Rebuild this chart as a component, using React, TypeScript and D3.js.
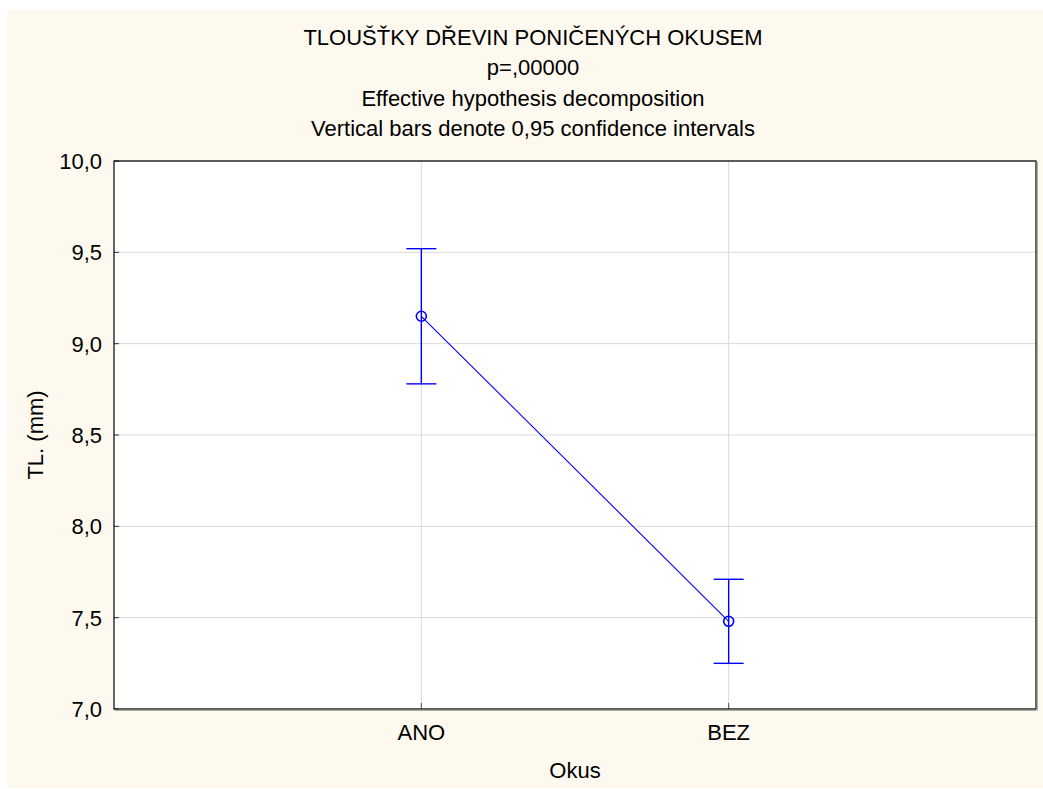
import React from 'react';
import * as d3 from 'd3';

const categories = ['ANO', 'BEZ'];
const means = [9.15, 7.48];
const lowerCI = [8.78, 7.25];
const upperCI = [9.52, 7.71];
const yTicks = [7.0, 7.5, 8.0, 8.5, 9.0, 9.5, 10.0];
const yDomain = [7.0, 10.0];
const titleLines = [
  'TLOUŠŤKY DŘEVIN PONIČENÝCH OKUSEM',
  'p=,00000',
  'Effective hypothesis decomposition',
  'Vertical bars denote 0,95 confidence intervals',
];
const xLabel = 'Okus';
const yLabel = 'TL. (mm)';

const W = 1043;
const H = 789;
const plot = { left: 114, right: 1036, top: 161, bottom: 709 };
const FONT = "'Liberation Sans', Arial, sans-serif";
const BLUE = '#0000ff';
const FS = 22;

const locale = d3.formatLocale({ decimal: ',', thousands: ' ', grouping: [3], currency: ['', ''] });
const fmt = locale.format('.1f');

export default function App() {
  const x = d3.scalePoint<string>().domain(categories).range([plot.left, plot.right]).padding(1);
  const y = d3.scaleLinear().domain(yDomain).range([plot.bottom, plot.top]);
  const line = d3
    .line<number>()
    .x((_, i) => x(categories[i]) as number)
    .y((d) => y(d));
  const capHalf = 15;

  return (
    <svg
      width={W}
      height={H}
      style={{ position: 'absolute', left: 0, top: 0, display: 'block' }}
      fontFamily={FONT}
    >
      <rect x={0} y={0} width={W} height={H} fill="#ffffff" />
      <rect x={7} y={10} width={W - 7} height={H - 11} fill="#fdf9ef" />
      {titleLines.map((t, i) => (
        <text key={i} x={533} y={45 + i * 30.3} textAnchor="middle" fontSize={FS} fill="#000">
          {t}
        </text>
      ))}
      <rect
        x={plot.left}
        y={plot.top}
        width={plot.right - plot.left}
        height={plot.bottom - plot.top}
        fill="#ffffff"
      />
      {/* grid */}
      {yTicks.map((t) => (
        <line key={'gy' + t} x1={plot.left} x2={plot.right} y1={y(t)} y2={y(t)} stroke="#d9d9d9" strokeWidth={1} />
      ))}
      {categories.map((c) => (
        <line key={'gx' + c} x1={x(c)} x2={x(c)} y1={plot.top} y2={plot.bottom} stroke="#d9d9d9" strokeWidth={1} />
      ))}
      {/* ticks */}
      {yTicks.map((t) => (
        <line key={'ty' + t} x1={plot.left} x2={plot.left + 5} y1={y(t)} y2={y(t)} stroke="#333" strokeWidth={1} />
      ))}
      {categories.map((c) => (
        <line key={'tx' + c} x1={x(c)} x2={x(c)} y1={plot.bottom} y2={plot.bottom - 6} stroke="#555" strokeWidth={1} />
      ))}
      {/* frame */}
      <rect
        x={plot.left}
        y={plot.top}
        width={plot.right - plot.left}
        height={plot.bottom - plot.top}
        fill="none"
        stroke="#000"
        strokeWidth={1.2}
      />
      <line x1={plot.left + 1} x2={plot.right} y1={plot.bottom + 1.2} y2={plot.bottom + 1.2} stroke="#888" strokeWidth={1} />
      <line x1={plot.right + 1.2} x2={plot.right + 1.2} y1={plot.top + 1} y2={plot.bottom + 1.5} stroke="#888" strokeWidth={1} />
      {/* y tick labels */}
      {yTicks.map((t) => (
        <text key={'ly' + t} x={plot.left - 12} y={y(t)} dy="0.36em" textAnchor="end" fontSize={FS} fill="#000">
          {fmt(t)}
        </text>
      ))}
      {/* x tick labels */}
      {categories.map((c) => (
        <text key={'lx' + c} x={x(c)} y={740} textAnchor="middle" fontSize={FS} fill="#000">
          {c}
        </text>
      ))}
      <text x={(plot.left + plot.right) / 2} y={778} textAnchor="middle" fontSize={FS} fill="#000">
        {xLabel}
      </text>
      <text
        transform={`translate(43,${(plot.top + plot.bottom) / 2}) rotate(-90)`}
        textAnchor="middle"
        fontSize={FS}
        fill="#000"
      >
        {yLabel}
      </text>
      {/* series */}
      <path d={line(means) as string} fill="none" stroke={BLUE} strokeWidth={1.1} />
      {categories.map((c, i) => {
        const cx = x(c) as number;
        return (
          <g key={'s' + c}>
            <line x1={cx} x2={cx} y1={y(upperCI[i])} y2={y(lowerCI[i])} stroke={BLUE} strokeWidth={1.4} />
            <line x1={cx - capHalf} x2={cx + capHalf} y1={y(upperCI[i])} y2={y(upperCI[i])} stroke={BLUE} strokeWidth={1.4} />
            <line x1={cx - capHalf} x2={cx + capHalf} y1={y(lowerCI[i])} y2={y(lowerCI[i])} stroke={BLUE} strokeWidth={1.4} />
            <circle cx={cx} cy={y(means[i])} r={5} fill="none" stroke={BLUE} strokeWidth={1.6} />
          </g>
        );
      })}
    </svg>
  );
}
